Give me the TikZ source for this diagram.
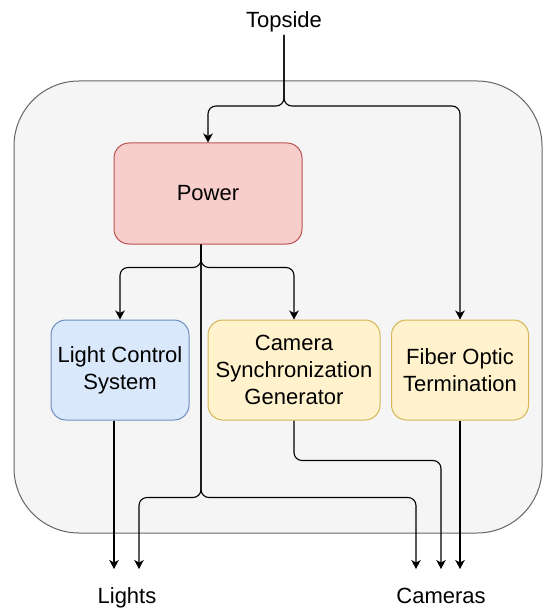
\documentclass[tikz,border=0pt]{standalone}
\usepackage{fontspec}
\setmainfont{Liberation Sans}
\usetikzlibrary{arrows.meta,calc}
\definecolor{boxgray}{HTML}{F5F5F5}
\definecolor{linegray}{HTML}{666666}
\definecolor{redfill}{HTML}{F8CECC}
\definecolor{redline}{HTML}{B85450}
\definecolor{bluefill}{HTML}{DAE8FC}
\definecolor{blueline}{HTML}{6C8EBF}
\definecolor{yelfill}{HTML}{FFF2CC}
\definecolor{yelline}{HTML}{D6B656}
\tikzset{
  box/.style={draw,rounded corners=15pt,line width=1pt,align=center,inner sep=0pt,
    minimum height=100pt,font=\fontsize{22}{26.7}\selectfont},
  lbl/.style={inner sep=2pt,anchor=base,font=\fontsize{22}{26}\selectfont},
  wire/.style={line width=1.1pt,rounded corners=8pt},
  arr/.style={wire,-{Stealth[length=9pt,width=9.5pt,inset=2.5pt]}}
}

\begin{document}
\begin{tikzpicture}[x=1pt,y=-1pt]
	\useasboundingbox (0,0) rectangle (544,609);
	\draw[draw=linegray,fill=boxgray,line width=1pt,rounded corners=65pt] (14,81) rectangle (542,533);
    \node[box,draw=redline,fill=redfill,minimum width=188pt,minimum height=101pt] (power) at (208,193.5) {Power};
    \node[box,draw=blueline,fill=bluefill,minimum width=138pt] (lcs) at (120,370) {Light Control\\System};
    \node[box,draw=yelline,fill=yelfill,minimum width=172pt] (csg) at (294,370) {Camera\\Synchronization\\Generator};
    \node[box,draw=yelline,fill=yelfill,minimum width=137pt] (fot) at (460,370) {Fiber Optic\\Termination};
    \node[lbl] (topside) at (284,28) {Topside};
    \node[lbl] (lights) at (127,603) {Lights};
    \node[lbl] (cameras) at (441,603) {Cameras};
    % free ends of the wires
    \coordinate (tsplit) at (284,106);
    \coordinate (pwout) at ([xshift=-7pt]power.south);
    \coordinate (litA) at (114,569);
    \coordinate (litB) at (139,569);
    \coordinate (camA) at (416,569);
    \coordinate (camB) at (441,569);
    \coordinate (camC) at (460,569);
    % from topside
    \draw[arr] (topside.south) -- (tsplit) -| (power.north);
    \draw[arr] (topside.south) -- (tsplit) -| (fot.north);
    % power branches
    \draw[arr] (pwout) -- ++(0,23) -| (lcs.north);
    \draw[arr] (pwout) -- ++(0,23) -| (csg.north);
    \draw[arr] (pwout) -- ++(0,253) -| (litB);
    \draw[arr] (pwout) -- ++(0,253) -| (camA);
    % down to lights and cameras
    \draw[arr] ([xshift=-6pt]lcs.south) -- (litA);
    \draw[arr] (csg.south) -- ++(0,40) -| (camB);
    \draw[arr] (fot.south) -- (camC);
\end{tikzpicture}
\end{document}
